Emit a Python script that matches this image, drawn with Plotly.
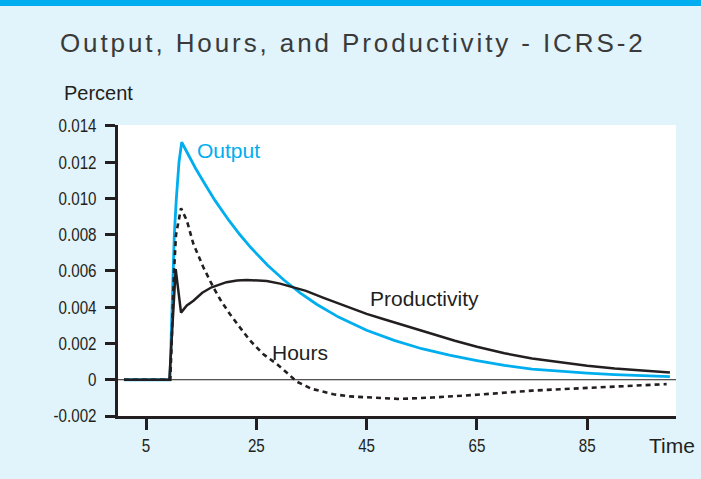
import plotly.graph_objects as go

# ---- data ----
output_t = [1, 9.35, 9.53, 9.71, 9.89, 10.13, 10.5, 10.98, 11.47, 12.5, 14, 15.7, 17.5, 20, 22, 24,
            27, 30, 33, 36, 40, 45, 50, 55, 60, 65, 70, 75, 80, 85, 90, 95, 100]
output_v = [0, 0, 0.002, 0.004, 0.006, 0.008, 0.010, 0.012, 0.0131, 0.01249, 0.01165, 0.01078,
            0.00989, 0.0088, 0.00801, 0.00729, 0.00633, 0.0055, 0.00478, 0.00415, 0.00344,
            0.00273, 0.00217, 0.00171, 0.00136, 0.00106, 0.00079, 0.00058, 0.00045, 0.00036,
            0.00028, 0.00022, 0.00017]

prod_t = [1, 9.23, 10.38, 11.35, 12.4, 13.6, 15.2, 16.9, 19.6, 21.5, 23.3, 25, 26.9, 29.3, 31.7,
          34, 37.2, 40, 42, 45, 48, 51, 54, 57, 61, 65, 70, 75, 80, 85, 90, 95, 100]
prod_v = [0, 0, 0.0061, 0.0037, 0.0041, 0.00436, 0.0048, 0.0051, 0.00538, 0.00547, 0.0055,
          0.00549, 0.00545, 0.0053, 0.0051, 0.0049, 0.00452, 0.00421, 0.00398, 0.00363, 0.00335,
          0.00307, 0.0028, 0.00252, 0.00215, 0.00182, 0.00146, 0.00117, 0.00095, 0.00077,
          0.00062, 0.0005, 0.0004]

hours_t = [1, 9.4, 9.65, 10.08, 10.44, 11.35, 12.4, 13.58, 15.4, 17.2, 18.7, 20.2, 22, 23.9, 26.3,
           28.7, 30.5, 32.3, 35, 39, 42, 45, 51, 57, 65, 75, 85, 99.4]
hours_v = [0, 0, 0.002, 0.006, 0.008, 0.00946, 0.00878, 0.0075, 0.0062, 0.0051, 0.0043, 0.00363,
           0.0029, 0.00215, 0.0014, 0.00087, 0.0004, -0.0001, -0.0005, -0.0008, -0.00092,
           -0.00098, -0.00106, -0.00098, -0.00083, -0.0006, -0.00045, -0.00024]

x_ticks = [5, 25, 45, 65, 85]
y_ticks = [-0.002, 0, 0.002, 0.004, 0.006, 0.008, 0.010, 0.012, 0.014]
y_ticktext = ["-0.002", "0", "0.002", "0.004", "0.006", "0.008", "0.010", "0.012", "0.014"]

BLUE = "#00AEEF"
DARK = "#231F20"
BG = "#E1F3FB"
MAINFONT = "Liberation Sans, Arial, sans-serif"

fig = go.Figure()
fig.add_trace(go.Scatter(x=output_t, y=output_v, mode="lines",
                         line=dict(color=BLUE, width=2.8), name="Output"))
fig.add_trace(go.Scatter(x=prod_t, y=prod_v, mode="lines",
                         line=dict(color=DARK, width=2.5), name="Productivity"))
fig.add_trace(go.Scatter(x=hours_t, y=hours_v, mode="lines",
                         line=dict(color=DARK, width=2.6, dash="5px,4px"), name="Hours"))

# zero line
fig.add_shape(type="line", xref="paper", yref="y", x0=0, x1=1, y0=0, y1=0,
              line=dict(color=DARK, width=1), layer="below")
# top blue bar
fig.add_shape(type="rect", xref="paper", yref="paper", x0=-0.3, x1=1.1,
              y0=1.409, y1=1.45, line=dict(width=0), fillcolor=BLUE, layer="above")

annotations = [
    dict(text="Output, Hours, and Productivity - ICRS-2", xref="paper", yref="paper",
         x=0.4203, y=1.2818, xanchor="center", yanchor="middle", showarrow=False,
         font=dict(family=MAINFONT, size=26, color="#3a3a3a")),
    dict(text="Percent", xref="paper", yref="paper", x=-0.1004, y=1.110,
         xanchor="left", yanchor="middle", showarrow=False,
         font=dict(family=MAINFONT, size=20, color=DARK)),
    dict(text="Time", xref="paper", yref="paper", x=0.9475, y=-0.0997,
         xanchor="left", yanchor="middle", showarrow=False,
         font=dict(family=MAINFONT, size=21, color=DARK)),
    dict(text="Output", x=13.88, y=0.01265, xanchor="left", yanchor="middle",
         showarrow=False, font=dict(family=MAINFONT, size=21, color=BLUE)),
    dict(text="Productivity", x=45.3, y=0.004475, xanchor="left", yanchor="middle",
         showarrow=False, font=dict(family=MAINFONT, size=21, color=DARK)),
    dict(text="Hours", x=27.4, y=0.00150, xanchor="left", yanchor="middle",
         showarrow=False, font=dict(family=MAINFONT, size=21, color=DARK)),
]

fig.update_layout(
    width=701, height=479,
    margin=dict(l=118, r=25, t=125, b=63),
    paper_bgcolor=BG, plot_bgcolor="white",
    showlegend=False,
    annotations=annotations,
    xaxis=dict(range=[-0.08, 101.1], tickvals=x_ticks, ticks="outside", ticklen=11,
               tickwidth=2.5, tickcolor=DARK, showline=True, linecolor=DARK, linewidth=2.5,
               showgrid=False, zeroline=False, ticklabelstandoff=0,
               tickfont=dict(family=MAINFONT, size=18.5, color=DARK)),
    yaxis=dict(range=[-0.002, 0.01405], tickvals=y_ticks, ticktext=y_ticktext,
               ticks="outside", ticklen=10, tickwidth=2.5, tickcolor=DARK,
               showline=True, linecolor=DARK, linewidth=2.5, showgrid=False, zeroline=False,
               ticklabelstandoff=5,
               tickfont=dict(family=MAINFONT, size=18.5, color=DARK)),
)

# remove page margin, letter-space the title, and condense tick labels (Arial Narrow look)
post = ("document.body.style.margin='0';"
        "var gd=document.getElementById('{plot_id}');"
        "gd.querySelectorAll('.annotation-text').forEach(function(e){"
        "if(e.textContent.indexOf('ICRS')>=0){e.style.letterSpacing='2.9px';}});"
        "gd.querySelectorAll('.xtick text, .ytick text').forEach(function(e){"
        "var L=e.getComputedTextLength();"
        "e.setAttribute('textLength',(L*0.82).toFixed(2));"
        "e.setAttribute('lengthAdjust','spacingAndGlyphs');});")

fig.write_html("out.html", post_script=post, config={"displayModeBar": False})
